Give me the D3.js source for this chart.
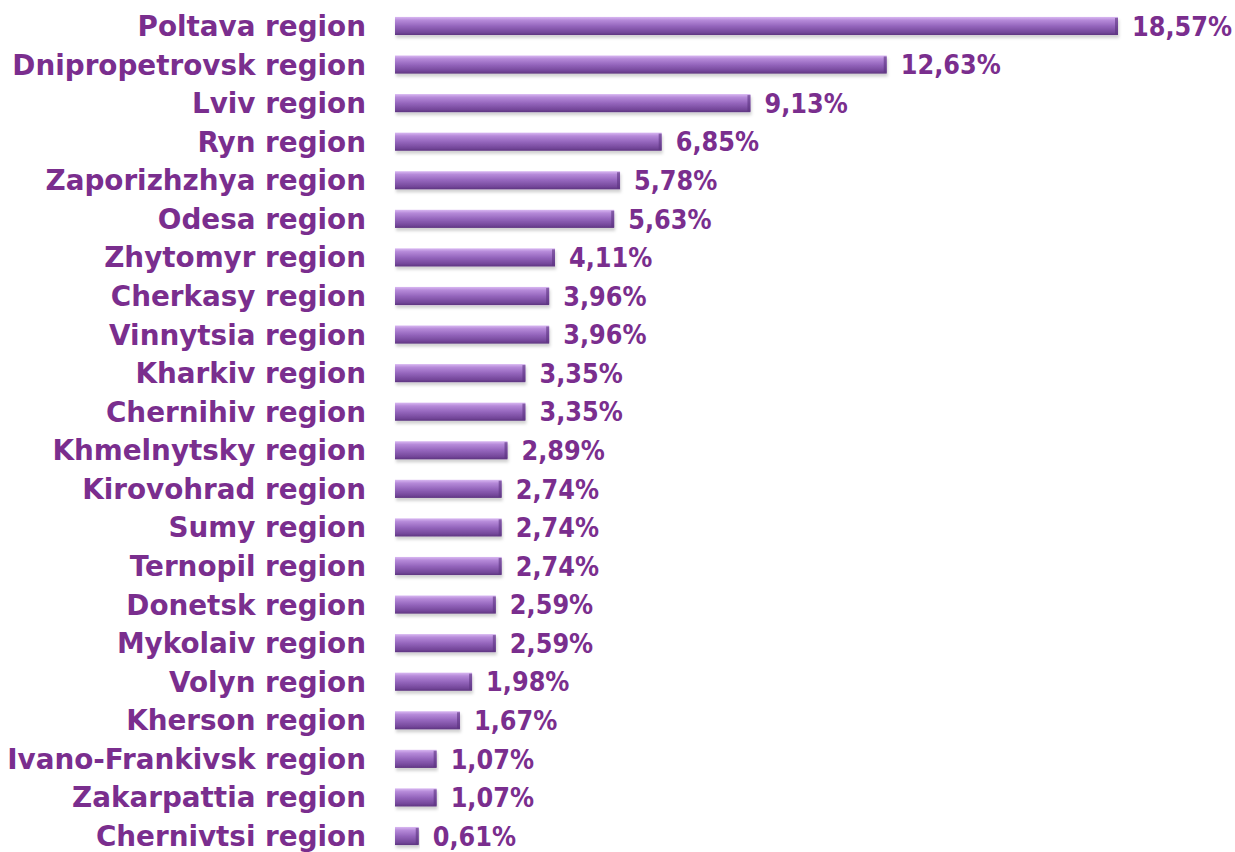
<!DOCTYPE html>
<html><head><meta charset="utf-8">
<script src="https://cdn.jsdelivr.net/npm/d3@7"></script>
<style>body{margin:0;background:#fff}svg{display:block}</style>
</head><body>
<script>
const regions = ["Poltava region","Dnipropetrovsk region","Lviv region","Ryn region","Zaporizhzhya region","Odesa region","Zhytomyr region","Cherkasy region","Vinnytsia region","Kharkiv region","Chernihiv region","Khmelnytsky region","Kirovohrad region","Sumy region","Ternopil region","Donetsk region","Mykolaiv region","Volyn region","Kherson region","Ivano-Frankivsk region","Zakarpattia region","Chernivtsi region"];
const values = [18.57,12.63,9.13,6.85,5.78,5.63,4.11,3.96,3.96,3.35,3.35,2.89,2.74,2.74,2.74,2.59,2.59,1.98,1.67,1.07,1.07,0.61];
const valueLabels = ["18,57%","12,63%","9,13%","6,85%","5,78%","5,63%","4,11%","3,96%","3,96%","3,35%","3,35%","2,89%","2,74%","2,74%","2,74%","2,59%","2,59%","1,98%","1,67%","1,07%","1,07%","0,61%"];

const W=1235,H=852;
const svg=d3.select("body").append("svg").attr("width",W).attr("height",H);
const x=d3.scaleLinear().domain([0,18.57]).range([395,1118]);
const y=d3.scaleBand().domain(regions).range([6.7,855.3]).paddingInner(0.53).paddingOuter(0.265);
const defs=svg.append("defs");
const g=defs.append("linearGradient").attr("id","bg").attr("x1",0).attr("y1",0).attr("x2",0).attr("y2",1);
[[0,"#d9b8f2"],[0.18,"#b68ad9"],[0.5,"#9566bd"],[0.85,"#74479a"],[1,"#5e3580"]].forEach(s=>g.append("stop").attr("offset",s[0]).attr("stop-color",s[1]));
const f=defs.append("filter").attr("id","sh").attr("x","-5%").attr("y","-20%").attr("width","110%").attr("height","160%");
f.append("feDropShadow").attr("dx",1).attr("dy",3).attr("stdDeviation",1.5).attr("flood-color","#000").attr("flood-opacity",0.18);

const data=regions.map((r,i)=>({r,v:values[i],l:valueLabels[i]}));
const row=svg.selectAll("g.row").data(data).join("g").attr("class","row");
row.append("rect").attr("x",x(0)).attr("y",d=>y(d.r)).attr("width",d=>x(d.v)-x(0)).attr("height",y.bandwidth())
  .attr("fill","url(#bg)").attr("filter","url(#sh)");
row.append("rect").attr("x",d=>x(d.v)-3).attr("y",d=>y(d.r)+1).attr("width",3).attr("height",y.bandwidth()-2).attr("fill","#5b3380").attr("opacity",0.6);
row.append("text").attr("x",366).attr("y",d=>y(d.r)+y.bandwidth()/2).attr("dy","0.36em").attr("text-anchor","end")
  .attr("font-family","DejaVu Sans").attr("font-weight","bold").attr("font-size",27.8).attr("fill","#7a2e8e").text(d=>d.r);
row.append("text")
  .attr("transform",d=>`translate(${x(d.v)+14},${y(d.r)+y.bandwidth()/2}) scale(0.89,1)`)
  .attr("dy","0.36em")
  .attr("font-family","DejaVu Sans").attr("font-weight","bold").attr("font-size",27).attr("fill","#7a2e8e").text(d=>d.l);
</script>
</body></html>
